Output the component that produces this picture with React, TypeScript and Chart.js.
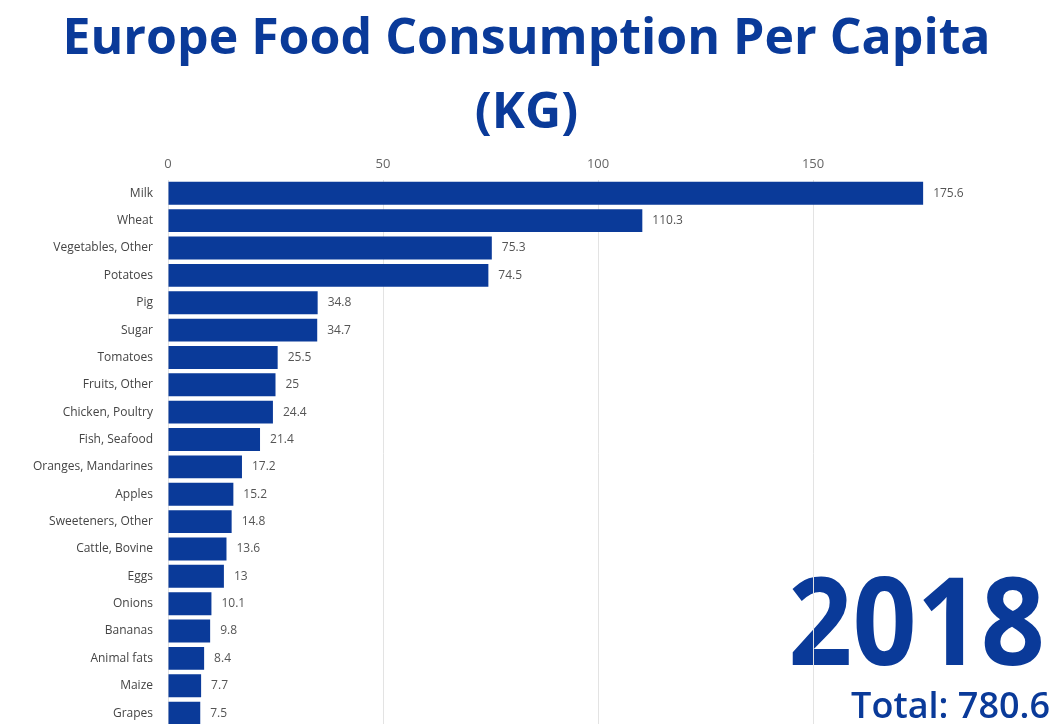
import React, { useEffect, useRef } from "react";
import { Chart, registerables } from "chart.js";

Chart.register(...registerables);

const categories: string[] = [
  "Milk", "Wheat", "Vegetables, Other", "Potatoes", "Pig", "Sugar", "Tomatoes",
  "Fruits, Other", "Chicken, Poultry", "Fish, Seafood", "Oranges, Mandarines",
  "Apples", "Sweeteners, Other", "Cattle, Bovine", "Eggs", "Onions", "Bananas",
  "Animal fats", "Maize", "Grapes",
];
const values: number[] = [
  175.6, 110.3, 75.3, 74.5, 34.8, 34.7, 25.5, 25, 24.4, 21.4, 17.2, 15.2, 14.8,
  13.6, 13, 10.1, 9.8, 8.4, 7.7, 7.5,
];
const titleLines: string[] = ["Europe Food Consumption Per Capita", "(KG)"];
const yearLabel = "2018";
const totalLabel = "Total: 780.6";
const xTickValues: number[] = [0, 50, 100, 150];

const BLUE = "#0a3a99";

export default function App() {
  const ref = useRef<HTMLCanvasElement>(null);

  useEffect(() => {
    if (!ref.current) return;
    const valueLabels = {
      id: "valueLabels",
      afterDatasetsDraw(chart: any) {
        const ctx = chart.ctx;
        const meta = chart.getDatasetMeta(0);
        ctx.save();
        ctx.font = "12px 'Open Sans'";
        ctx.fillStyle = "#555";
        ctx.textAlign = "left";
        ctx.textBaseline = "middle";
        meta.data.forEach((bar: any, i: number) => {
          ctx.fillText(String(chart.data.datasets[0].data[i]), bar.x + 10, bar.y);
        });
        ctx.restore();
      },
    };
    const yearText = {
      id: "yearText",
      beforeDraw(chart: any) {
        const ctx = chart.ctx;
        ctx.save();
        ctx.fillStyle = BLUE;
        ctx.textAlign = "right";
        ctx.textBaseline = "alphabetic";
        ctx.font = "700 122px 'Open Sans'";
        ctx.translate(1045, 665);
        ctx.scale(0.92, 1);
        ctx.fillText(yearLabel, 0, 0);
        ctx.restore();
        ctx.save();
        ctx.fillStyle = BLUE;
        ctx.textAlign = "right";
        ctx.textBaseline = "alphabetic";
        ctx.font = "600 36px 'Open Sans'";
        ctx.fillText(totalLabel, 1050, 718);
        ctx.restore();
      },
    };

    const chart = new Chart(ref.current, {
      type: "bar",
      data: {
        labels: categories,
        datasets: [
          {
            data: values,
            backgroundColor: BLUE,
            borderWidth: 0,
            barPercentage: 0.9,
            categoryPercentage: 0.93,
          },
        ],
      },
      options: {
        indexAxis: "y",
        responsive: false,
        animation: false,
        layout: { padding: { left: 0, right: 0, top: 0, bottom: 0 } },
        plugins: {
          legend: { display: false },
          tooltip: { enabled: false },
          title: {
            display: true,
            text: titleLines,
            color: BLUE,
            font: { family: "'Open Sans'", size: 50, weight: "bold", lineHeight: 1.48 },
            padding: { top: 3, bottom: -3 },
          },
        },
        scales: {
          x: {
            position: "top",
            min: 0,
            max: 205.8,
            afterBuildTicks: (axis: any) => {
              axis.ticks = xTickValues.map((v) => ({ value: v }));
            },
            grid: { color: "#e3e3e3", drawTicks: false },
            border: { display: false },
            ticks: {
              color: "#666",
              font: { family: "'Open Sans'", size: 13 },
              padding: 8,
            },
          },
          y: {
            afterFit: (scale: any) => {
              scale.width = 168;
            },
            grid: { display: false },
            border: { display: false },
            ticks: {
              color: "#444",
              font: { family: "'Open Sans'", size: 12 },
              padding: 7,
              autoSkip: false,
            },
          },
        },
      },
      plugins: [valueLabels, yearText],
    } as any);
    return () => chart.destroy();
  }, []);

  return (
    <div
      style={{
        position: "absolute",
        left: 0,
        top: 0,
        width: 1053,
        height: 724,
        overflow: "hidden",
        background: "#fff",
      }}
    >
      <canvas ref={ref} width={1053} height={741} />
    </div>
  );
}
